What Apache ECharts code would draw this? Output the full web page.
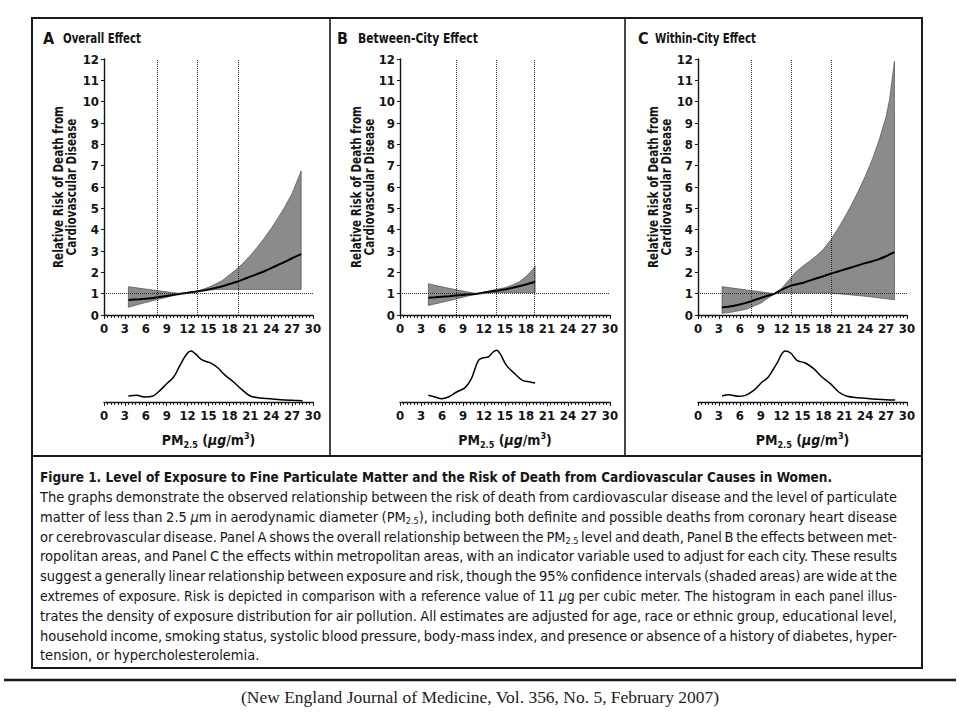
<!DOCTYPE html>
<html>
<head>
<meta charset="utf-8">
<script src="https://cdn.jsdelivr.net/npm/echarts@6/dist/echarts.min.js"></script>
<style>
html,body{margin:0;padding:0;background:#fff;}
#chart{position:absolute;left:0;top:0;width:960px;height:720px;}
#cap{position:absolute;left:40px;top:467px;width:857px;color:#161616;
  font-family:'Liberation Sans Narrow','DejaVu Sans Condensed','DejaVu Sans',sans-serif;font-size:14.5px;}
#cap .ln{white-space:nowrap;height:19.8px;line-height:19.8px;}
#cap .t{font-weight:bold;height:21px;line-height:20px;}
#cap .in{display:inline-block;transform-origin:0 50%;}
#cap sub{font-size:9px;vertical-align:-2px;line-height:0;}
#cite{position:absolute;left:0;top:688px;width:960px;text-align:center;line-height:20px;
  font-family:'Liberation Serif','DejaVu Serif',serif;font-size:16px;color:#222;}
#cite .in{display:inline-block;transform-origin:50% 50%;}
</style>
</head>
<body>
<div id="chart"></div>
<div id="cap">
  <div class="ln t" data-w="792"><span class="in">Figure 1. Level of Exposure to Fine Particulate Matter and the Risk of Death from Cardiovascular Causes in Women.</span></div>
  <div class="ln" data-w="857"><span class="in">The graphs demonstrate the observed relationship between the risk of death from cardiovascular disease and the level of particulate</span></div>
  <div class="ln" data-w="857"><span class="in">matter of less than 2.5 <i>μ</i>m in aerodynamic diameter (PM<sub>2.5</sub>), including both definite and possible deaths from coronary heart disease</span></div>
  <div class="ln" data-w="857"><span class="in">or cerebrovascular disease. Panel A shows the overall relationship between the PM<sub>2.5</sub> level and death, Panel B the effects between met-</span></div>
  <div class="ln" data-w="857"><span class="in">ropolitan areas, and Panel C the effects within metropolitan areas, with an indicator variable used to adjust for each city. These results</span></div>
  <div class="ln" data-w="857"><span class="in">suggest a generally linear relationship between exposure and risk, though the 95% confidence intervals (shaded areas) are wide at the</span></div>
  <div class="ln" data-w="857"><span class="in">extremes of exposure. Risk is depicted in comparison with a reference value of 11 <i>μ</i>g per cubic meter. The histogram in each panel illus-</span></div>
  <div class="ln" data-w="857"><span class="in">trates the density of exposure distribution for air pollution. All estimates are adjusted for age, race or ethnic group, educational level,</span></div>
  <div class="ln" data-w="857"><span class="in">household income, smoking status, systolic blood pressure, body-mass index, and presence or absence of a history of diabetes, hyper-</span></div>
  <div class="ln"><span class="in">tension, or hypercholesterolemia.</span></div>
</div>
<div id="cite"><span class="in">(New England Journal of Medicine, Vol. 356, No. 5, February 2007)</span></div>
<script>
// ---------- tick labels ----------
const xTickLabels = [0, 3, 6, 9, 12, 15, 18, 21, 24, 27, 30];
const yTickLabels = [0, 1, 2, 3, 4, 5, 6, 7, 8, 9, 10, 11, 12];
const refLevel = 1;

// ---------- panel titles ----------
const panelLetters = ['A', 'B', 'C'];
const panelTitles = ['Overall Effect', 'Between-City Effect', 'Within-City Effect'];
const yAxisTitle = ['Relative Risk of Death from', 'Cardiovascular Disease'];

// ---------- Panel A: overall effect ----------
const xA      = [3.5, 5, 7, 9, 11, 12, 13, 14, 15, 16, 17, 18, 19, 20, 21, 22, 23, 24, 25, 26, 27, 28.3];
const riskA   = [0.70, 0.74, 0.80, 0.89, 1.00, 1.04, 1.09, 1.14, 1.20, 1.27, 1.35, 1.45, 1.55, 1.67, 1.80, 1.92, 2.05, 2.20, 2.35, 2.50, 2.66, 2.85];
const upperA  = [1.33, 1.26, 1.17, 1.09, 1.00, 1.04, 1.10, 1.18, 1.30, 1.45, 1.62, 1.88, 2.14, 2.44, 2.79, 3.18, 3.60, 4.06, 4.56, 5.10, 5.70, 6.75];
const lowerA  = [0.36, 0.50, 0.67, 0.83, 1.00, 1.05, 1.10, 1.14, 1.17, 1.19, 1.20, 1.20, 1.20, 1.20, 1.20, 1.20, 1.20, 1.20, 1.20, 1.20, 1.20, 1.20];
const pctA    = [7.6, 13.4, 19.2];
const densXA  = [3.5, 4.7, 5.9, 6.9, 7.8, 9.0, 10.0, 10.9, 11.9, 12.5, 13.1, 14.0, 15.2, 16.2, 17.4, 18.6, 19.8, 21.0, 22.4, 23.9, 25.3, 27.2, 28.5];
const densA   = [0.018, 0.020, 0.015, 0.017, 0.030, 0.055, 0.075, 0.110, 0.145, 0.153, 0.145, 0.127, 0.118, 0.105, 0.080, 0.060, 0.037, 0.018, 0.012, 0.010, 0.007, 0.005, 0.004];

// ---------- Panel B: between-city effect ----------
const xB      = [4.05, 5, 7, 9, 11, 12, 13, 14, 15, 16, 17, 18, 19, 19.3];
const riskB   = [0.81, 0.83, 0.88, 0.94, 1.00, 1.05, 1.10, 1.15, 1.20, 1.27, 1.35, 1.43, 1.52, 1.56];
const upperB  = [1.47, 1.39, 1.25, 1.12, 1.00, 1.07, 1.15, 1.22, 1.28, 1.40, 1.55, 1.80, 2.15, 2.30];
const lowerB  = [0.45, 0.52, 0.67, 0.83, 1.00, 1.03, 1.05, 1.06, 1.06, 1.06, 1.05, 1.05, 1.05, 1.05];
const pctB    = [8.0, 13.7, 19.2];
const densXB  = [4.05, 5.0, 5.95, 6.9, 8.1, 9.3, 10.2, 11.2, 11.9, 12.6, 13.3, 13.8, 14.3, 15.2, 16.4, 17.5, 18.6, 19.3];
const densB   = [0.020, 0.015, 0.010, 0.015, 0.030, 0.043, 0.070, 0.125, 0.133, 0.135, 0.150, 0.155, 0.145, 0.110, 0.085, 0.065, 0.060, 0.057];

// ---------- Panel C: within-city effect ----------
const xC      = [3.45, 5, 7, 9, 10, 11, 12, 13, 14, 15, 16, 17, 18, 19, 20, 21, 22, 23, 24, 25, 26, 27, 27.5, 28.2];
const riskC   = [0.35, 0.42, 0.58, 0.80, 0.90, 1.00, 1.18, 1.33, 1.43, 1.50, 1.61, 1.72, 1.82, 1.93, 2.03, 2.13, 2.23, 2.33, 2.43, 2.52, 2.62, 2.76, 2.84, 2.95];
const upperC  = [1.33, 1.26, 1.17, 1.09, 1.04, 1.00, 1.25, 1.62, 2.00, 2.28, 2.52, 2.78, 3.08, 3.50, 4.00, 4.55, 5.15, 5.80, 6.50, 7.28, 8.20, 9.30, 10.1, 11.9];
const lowerC  = [0.08, 0.14, 0.28, 0.55, 0.78, 1.00, 1.03, 1.04, 1.04, 1.04, 1.04, 1.04, 1.03, 1.03, 1.00, 0.97, 0.94, 0.91, 0.88, 0.84, 0.80, 0.76, 0.74, 0.72];
const pctC    = [7.65, 13.4, 19.1];
const densXC  = [3.45, 4.4, 5.8, 6.8, 8.0, 9.2, 10.1, 11.3, 12.5, 13.3, 14.2, 15.4, 16.6, 17.8, 19.0, 20.2, 21.4, 23.1, 25.0, 26.9, 28.3];
const densC   = [0.018, 0.022, 0.017, 0.020, 0.035, 0.060, 0.075, 0.115, 0.153, 0.147, 0.125, 0.117, 0.100, 0.075, 0.055, 0.030, 0.017, 0.013, 0.009, 0.007, 0.006];

// ---------- build ----------
const FN = "'Liberation Sans Narrow','DejaVu Sans Condensed','DejaVu Sans',sans-serif";
const F = FN;
const INK = '#141414';
const panels = [
  {x: xA, risk: riskA, up: upperA, lo: lowerA, pct: pctA, dx: densXA, d: densA},
  {x: xB, risk: riskB, up: upperB, lo: lowerB, pct: pctB, dx: densXB, d: densB},
  {x: xC, risk: riskC, up: upperC, lo: lowerC, pct: pctC, dx: densXC, d: densC}
];
const gridLefts = [104, 400, 698];
const gridWidths = [209, 210, 209];

const xMin = xTickLabels[0], xMax = xTickLabels[xTickLabels.length - 1], xInt = xTickLabels[1] - xTickLabels[0];
const yMin = yTickLabels[0], yMax = yTickLabels[yTickLabels.length - 1], yInt = yTickLabels[1] - yTickLabels[0];

// text width measurement (to compress bold text to the condensed width of the original)
const mctx = document.createElement('canvas').getContext('2d');
function textW(txt, size) { mctx.font = 'bold ' + size + 'px ' + FN; return mctx.measureText(txt).width; }

const grids = [], xAxes = [], yAxes = [], series = [];

function xAxisBase(gi) {
  return {
    gridIndex: gi, type: 'value', min: xMin, max: xMax, interval: xInt,
    axisLine: {show: true, onZero: false, lineStyle: {color: INK, width: 1.4}},
    axisTick: {show: true, length: 4, lineStyle: {color: INK, width: 1}},
    minorTick: {show: true, splitNumber: 6, length: 3, lineStyle: {color: INK, width: 0.9}},
    axisLabel: {margin: 7, color: INK, fontSize: 13, fontWeight: 'bold', fontFamily: F},
    splitLine: {show: false}, minorSplitLine: {show: false}
  };
}

panels.forEach((p, i) => {
  grids.push({left: gridLefts[i], top: 59, width: gridWidths[i], height: 256, outerBoundsMode: 'none', containLabel: false});
  xAxes.push(xAxisBase(i));
  yAxes.push({
    gridIndex: i, type: 'value', min: yMin, max: yMax, interval: yInt,
    axisLine: {show: true, onZero: false, lineStyle: {color: INK, width: 1.4}},
    axisTick: {show: true, length: 3, lineStyle: {color: INK, width: 1}},
    axisLabel: {margin: 5, color: INK, fontSize: 13, fontWeight: 'bold', fontFamily: F},
    splitLine: {show: false}
  });
});
panels.forEach((p, i) => {
  grids.push({left: gridLefts[i], top: 348.7, width: gridWidths[i], height: 53.3, outerBoundsMode: 'none', containLabel: false});
  const ax = xAxisBase(3 + i);
  ax.name = '{a|PM}{s|2.5}{a| (}{i|µg}{a|/m}{p|3}{a|)}';
  ax.nameLocation = 'middle';
  ax.nameGap = 29;
  ax.nameMoveOverlap = false;
  ax.nameTextStyle = {
    color: INK, fontFamily: F, fontWeight: 'bold', fontSize: 14,
    rich: {
      a: {fontSize: 14, fontWeight: 'bold', fontFamily: F, color: INK, lineHeight: 18},
      i: {fontSize: 14, fontWeight: 'bold', fontStyle: 'italic', fontFamily: F, color: INK, lineHeight: 18},
      s: {fontSize: 9, fontWeight: 'bold', fontFamily: F, color: INK, lineHeight: 9, verticalAlign: 'bottom'},
      p: {fontSize: 9, fontWeight: 'bold', fontFamily: F, color: INK, lineHeight: 9, verticalAlign: 'top'}
    }
  };
  xAxes.push(ax);
  yAxes.push({gridIndex: 3 + i, type: 'value', min: 0, max: 0.16, show: false});
});

panels.forEach((p, i) => {
  const bandData = p.x.map((v, k) => [v, p.lo[k], p.up[k]]);
  series.push({
    type: 'custom', xAxisIndex: i, yAxisIndex: i, z: 1, silent: true,
    encode: {x: 0, y: [1, 2]},
    data: bandData,
    renderItem: function (params, api) {
      if (params.dataIndex !== 0) return null;
      const pts = [];
      for (let k = 0; k < bandData.length; k++) pts.push(api.coord([bandData[k][0], bandData[k][2]]));
      for (let k = bandData.length - 1; k >= 0; k--) pts.push(api.coord([bandData[k][0], bandData[k][1]]));
      return {type: 'polygon', shape: {points: pts},
        style: {fill: '#8b8b8b', stroke: '#505050', lineWidth: 0.7, lineJoin: 'round'}};
    }
  });
  series.push({
    type: 'line', xAxisIndex: i, yAxisIndex: i, z: 3, silent: true,
    data: p.x.map((v, k) => [v, p.risk[k]]),
    smooth: 0.3, showSymbol: false, symbol: 'none',
    lineStyle: {color: '#000', width: 2},
    markLine: {
      silent: true, symbol: 'none', label: {show: false},
      lineStyle: {color: '#2a2a2a', type: 'dotted', width: 1},
      data: [{yAxis: refLevel}].concat(p.pct.map(v => ({xAxis: v})))
    }
  });
  series.push({
    type: 'line', xAxisIndex: 3 + i, yAxisIndex: 3 + i, silent: true,
    data: p.dx.map((v, k) => [v, p.d[k]]),
    smooth: 0.35, showSymbol: false, symbol: 'none',
    lineStyle: {color: '#000', width: 1.5}
  });
});

const letterX = [43, 337, 638];
const titleX = [63, 358, 655];
const titleW = [78, 120, 101];
const yNameX = [64.5, 363, 659.5];
const yNameLen = 162;
const graphic = [
  {type: 'rect', shape: {x: 32, y: 18, width: 890, height: 438}, style: {fill: 'none', stroke: '#1a1a1a', lineWidth: 2}},
  {type: 'line', shape: {x1: 330, y1: 18, x2: 330, y2: 456}, style: {stroke: '#1a1a1a', lineWidth: 1.6}},
  {type: 'line', shape: {x1: 625, y1: 18, x2: 625, y2: 456}, style: {stroke: '#1a1a1a', lineWidth: 1.6}},
  {type: 'rect', shape: {x: 32, y: 456, width: 890, height: 212}, style: {fill: 'none', stroke: '#1a1a1a', lineWidth: 2}},
  {type: 'line', shape: {x1: 4, y1: 680, x2: 956, y2: 680}, style: {stroke: '#1a1a1a', lineWidth: 2.5}}
];
const yNameScale = Math.min(1, yNameLen / textW(yAxisTitle[0], 14));
panelLetters.forEach((L, i) => {
  graphic.push({type: 'text', x: letterX[i], y: 38, style: {text: L, fontSize: 16, fontWeight: 'bold', fontFamily: F, fill: INK, verticalAlign: 'middle', align: 'left'}});
  const sc = Math.min(1, titleW[i] / textW(panelTitles[i], 14));
  graphic.push({type: 'text', x: titleX[i], y: 38, scaleX: sc,
    style: {text: panelTitles[i], fontSize: 14, fontWeight: 'bold', fontFamily: F, fill: INK, verticalAlign: 'middle', align: 'left'}});
  // y-axis title (two lines, rotated)
  graphic.push({type: 'text', x: yNameX[i], y: 187, rotation: Math.PI / 2, scaleX: yNameScale,
    style: {text: yAxisTitle.join('\n'), fontSize: 14, fontWeight: 'bold', fontFamily: F, fill: INK,
      lineHeight: 13, verticalAlign: 'middle', align: 'center'}});
});

const chart = echarts.init(document.getElementById('chart'), null, {renderer: 'svg'});
chart.setOption({
  animation: false,
  backgroundColor: '#fff',
  grid: grids, xAxis: xAxes, yAxis: yAxes, series: series, graphic: graphic
});

// ---------- fit caption lines (justify) ----------
document.querySelectorAll('#cap .ln').forEach(div => {
  const target = parseFloat(div.getAttribute('data-w'));
  if (!target) return;
  const span = div.querySelector('.in');
  const w = span.getBoundingClientRect().width;
  const spaces = (span.textContent.match(/ /g) || []).length;
  const extra = (target - w) / spaces;
  if (extra >= -1.5) {
    span.style.wordSpacing = extra + 'px';
  } else {
    span.style.transform = 'scaleX(' + (target / w) + ')';
  }
});
const cs = document.querySelector('#cite .in');
const cw = cs.getBoundingClientRect().width;
cs.style.transform = 'scaleX(' + (478 / cw) + ')';
</script>
</body>
</html>
